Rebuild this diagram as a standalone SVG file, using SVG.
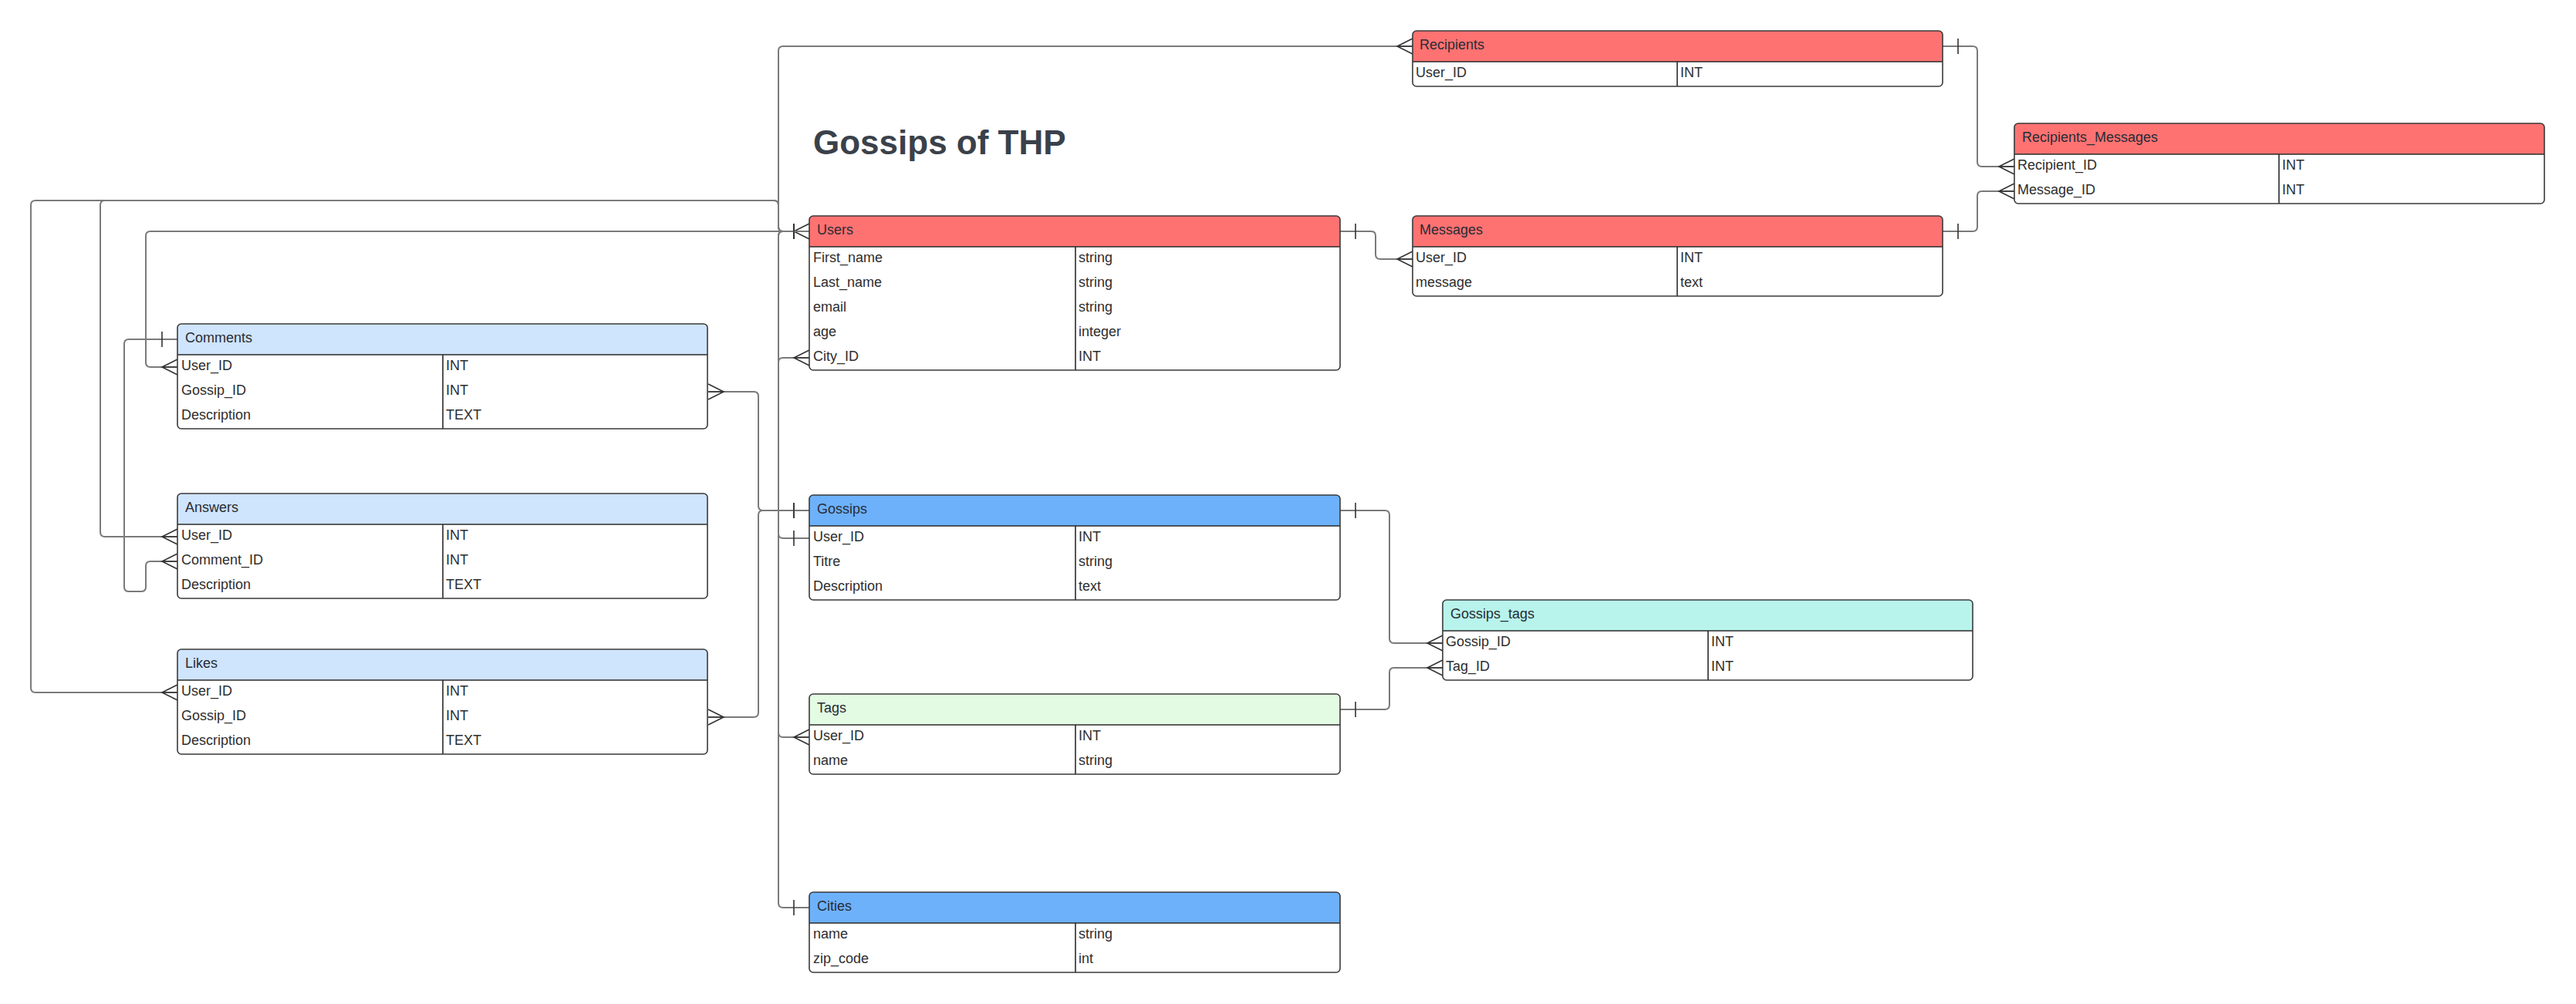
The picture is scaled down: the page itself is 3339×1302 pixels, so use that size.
<svg xmlns="http://www.w3.org/2000/svg" width="3339" height="1302" viewBox="0 0 3339 1302">
<style>
.bg{fill:#ffffff}
.body{fill:#ffffff;stroke:none}
.outline{fill:none;stroke:#3a3a3a;stroke-width:1.6}
.sep{stroke:#2a2a2a;stroke-width:1.6}
.red{fill:#ff7272}
.blue{fill:#6db1fb}
.lblue{fill:#cfe4fd}
.mint{fill:#b8f4ec}
.lgreen{fill:#e3fae3}
.ht{font-family:"Liberation Sans",Arial,sans-serif;font-size:18px;fill:#282c34;dominant-baseline:central;transform:translate(0px,-2px)}
.ct{font-family:"Liberation Sans",Arial,sans-serif;font-size:18px;fill:#2e2e2e;dominant-baseline:central;transform:translate(0px,-2px)}
.title{font-family:"Liberation Sans",Arial,sans-serif;font-size:44px;font-weight:bold;fill:#3a414a}
.conn{fill:none;stroke:#7a7a7a;stroke-width:2}
.mk{fill:none;stroke:#333333;stroke-width:1.6}
</style>
<defs>
<marker id="one" markerUnits="userSpaceOnUse" orient="auto-start-reverse" overflow="visible" markerWidth="30" markerHeight="30" refX="0" refY="0">
<path class="mk" d="M-20,-10 V10"/>
</marker>
<marker id="many" markerUnits="userSpaceOnUse" orient="auto-start-reverse" overflow="visible" markerWidth="30" markerHeight="30" refX="0" refY="0">
<path class="mk" d="M0,-10 L-20,0 L0,10 M-20,0 H0"/>
</marker>
</defs>
<rect class="bg" x="0" y="0" width="3339" height="1302"/>
<text class="title" x="1054" y="200">Gossips of THP</text>

<g id="connectors">
<path class="conn" d="M1049,300 H1015 Q1009,300 1009,294 V66 Q1009,60 1015,60 H1831" marker-start="url(#many)" marker-end="url(#many)"/>
<path class="conn" d="M1049,300 H1015 Q1009,300 1009,294 V266 Q1009,260 1003,260 H46 Q40,260 40,266 V892 Q40,898 46,898 H230" marker-start="url(#one)" marker-end="url(#many)"/>
<path class="conn" d="M1049,300 H1015 Q1009,300 1009,294 V266 Q1009,260 1003,260 H136 Q130,260 130,266 V690 Q130,696 136,696 H230" marker-start="url(#one)" marker-end="url(#many)"/>
<path class="conn" d="M1049,300 H195 Q189,300 189,306 V470 Q189,476 195,476 H230" marker-start="url(#one)" marker-end="url(#many)"/>
<path class="conn" d="M1049,300 H1015 Q1009,300 1009,306 V692 Q1009,698 1015,698 H1049" marker-start="url(#one)" marker-end="url(#one)"/>
<path class="conn" d="M1049,300 H1015 Q1009,300 1009,306 V950 Q1009,956 1015,956 H1049" marker-start="url(#one)" marker-end="url(#many)"/>
<path class="conn" d="M1049,1177 H1015 Q1009,1177 1009,1171 V470 Q1009,464 1015,464 H1049" marker-start="url(#one)" marker-end="url(#many)"/>
<path class="conn" d="M230,440 H167 Q161,440 161,446 V761 Q161,767 167,767 H183 Q189,767 189,761 V734 Q189,728 195,728 H230" marker-start="url(#one)" marker-end="url(#many)"/>
<path class="conn" d="M1049,662 H989 Q983,662 983,656 V514 Q983,508 977,508 H918" marker-start="url(#one)" marker-end="url(#many)"/>
<path class="conn" d="M1049,662 H989 Q983,662 983,668 V924 Q983,930 977,930 H918" marker-start="url(#one)" marker-end="url(#many)"/>
<path class="conn" d="M1737,300 H1777 Q1783,300 1783,306 V330 Q1783,336 1789,336 H1831" marker-start="url(#one)" marker-end="url(#many)"/>
<path class="conn" d="M2518,60 H2557 Q2563,60 2563,66 V210 Q2563,216 2569,216 H2611" marker-start="url(#one)" marker-end="url(#many)"/>
<path class="conn" d="M2518,300 H2557 Q2563,300 2563,294 V254 Q2563,248 2569,248 H2611" marker-start="url(#one)" marker-end="url(#many)"/>
<path class="conn" d="M1737,662 H1795 Q1801,662 1801,668 V828 Q1801,834 1807,834 H1870" marker-start="url(#one)" marker-end="url(#many)"/>
<path class="conn" d="M1737,920 H1795 Q1801,920 1801,914 V872 Q1801,866 1807,866 H1870" marker-start="url(#one)" marker-end="url(#many)"/>
</g>

<g id="Recipients">
<rect class="body" x="1831" y="40" width="687" height="72" rx="5"/>
<path class="red" d="M1836,40 H2513 Q2518,40 2518,45 V80 H1831 V45 Q1831,40 1836,40 Z"/>
<line class="sep" x1="1831" y1="80" x2="2518" y2="80"/>
<line class="sep" x1="2174" y1="80" x2="2174" y2="112"/>
<rect class="outline" x="1831" y="40" width="687" height="72" rx="5"/>
<text class="ht" x="1840" y="60">Recipients</text>
<text class="ct" x="1835" y="96">User_ID</text><text class="ct" x="2178" y="96">INT</text>
</g>

<g id="Recipients_Messages">
<rect class="body" x="2611" y="160" width="687" height="104" rx="5"/>
<path class="red" d="M2616,160 H3293 Q3298,160 3298,165 V200 H2611 V165 Q2611,160 2616,160 Z"/>
<line class="sep" x1="2611" y1="200" x2="3298" y2="200"/>
<line class="sep" x1="2954" y1="200" x2="2954" y2="264"/>
<rect class="outline" x="2611" y="160" width="687" height="104" rx="5"/>
<text class="ht" x="2621" y="180">Recipients_Messages</text>
<text class="ct" x="2615" y="216">Recipient_ID</text><text class="ct" x="2958" y="216">INT</text>
<text class="ct" x="2615" y="248">Message_ID</text><text class="ct" x="2958" y="248">INT</text>
</g>

<g id="Users">
<rect class="body" x="1049" y="280" width="688" height="200" rx="5"/>
<path class="red" d="M1054,280 H1732 Q1737,280 1737,285 V320 H1049 V285 Q1049,280 1054,280 Z"/>
<line class="sep" x1="1049" y1="320" x2="1737" y2="320"/>
<line class="sep" x1="1394" y1="320" x2="1394" y2="480"/>
<rect class="outline" x="1049" y="280" width="688" height="200" rx="5"/>
<text class="ht" x="1059" y="300">Users</text>
<text class="ct" x="1054" y="336">First_name</text><text class="ct" x="1398" y="336">string</text>
<text class="ct" x="1054" y="368">Last_name</text><text class="ct" x="1398" y="368">string</text>
<text class="ct" x="1054" y="400">email</text><text class="ct" x="1398" y="400">string</text>
<text class="ct" x="1054" y="432">age</text><text class="ct" x="1398" y="432">integer</text>
<text class="ct" x="1054" y="464">City_ID</text><text class="ct" x="1398" y="464">INT</text>
</g>

<g id="Messages">
<rect class="body" x="1831" y="280" width="687" height="104" rx="5"/>
<path class="red" d="M1836,280 H2513 Q2518,280 2518,285 V320 H1831 V285 Q1831,280 1836,280 Z"/>
<line class="sep" x1="1831" y1="320" x2="2518" y2="320"/>
<line class="sep" x1="2174" y1="320" x2="2174" y2="384"/>
<rect class="outline" x="1831" y="280" width="687" height="104" rx="5"/>
<text class="ht" x="1840" y="300">Messages</text>
<text class="ct" x="1835" y="336">User_ID</text><text class="ct" x="2178" y="336">INT</text>
<text class="ct" x="1835" y="368">message</text><text class="ct" x="2178" y="368">text</text>
</g>

<g id="Comments">
<rect class="body" x="230" y="420" width="687" height="136" rx="5"/>
<path class="lblue" d="M235,420 H912 Q917,420 917,425 V460 H230 V425 Q230,420 235,420 Z"/>
<line class="sep" x1="230" y1="460" x2="917" y2="460"/>
<line class="sep" x1="574" y1="460" x2="574" y2="556"/>
<rect class="outline" x="230" y="420" width="687" height="136" rx="5"/>
<text class="ht" x="240" y="440">Comments</text>
<text class="ct" x="235" y="476">User_ID</text><text class="ct" x="578" y="476">INT</text>
<text class="ct" x="235" y="508">Gossip_ID</text><text class="ct" x="578" y="508">INT</text>
<text class="ct" x="235" y="540">Description</text><text class="ct" x="578" y="540">TEXT</text>
</g>

<g id="Answers">
<rect class="body" x="230" y="640" width="687" height="136" rx="5"/>
<path class="lblue" d="M235,640 H912 Q917,640 917,645 V680 H230 V645 Q230,640 235,640 Z"/>
<line class="sep" x1="230" y1="680" x2="917" y2="680"/>
<line class="sep" x1="574" y1="680" x2="574" y2="776"/>
<rect class="outline" x="230" y="640" width="687" height="136" rx="5"/>
<text class="ht" x="240" y="660">Answers</text>
<text class="ct" x="235" y="696">User_ID</text><text class="ct" x="578" y="696">INT</text>
<text class="ct" x="235" y="728">Comment_ID</text><text class="ct" x="578" y="728">INT</text>
<text class="ct" x="235" y="760">Description</text><text class="ct" x="578" y="760">TEXT</text>
</g>

<g id="Likes">
<rect class="body" x="230" y="842" width="687" height="136" rx="5"/>
<path class="lblue" d="M235,842 H912 Q917,842 917,847 V882 H230 V847 Q230,842 235,842 Z"/>
<line class="sep" x1="230" y1="882" x2="917" y2="882"/>
<line class="sep" x1="574" y1="882" x2="574" y2="978"/>
<rect class="outline" x="230" y="842" width="687" height="136" rx="5"/>
<text class="ht" x="240" y="862">Likes</text>
<text class="ct" x="235" y="898">User_ID</text><text class="ct" x="578" y="898">INT</text>
<text class="ct" x="235" y="930">Gossip_ID</text><text class="ct" x="578" y="930">INT</text>
<text class="ct" x="235" y="962">Description</text><text class="ct" x="578" y="962">TEXT</text>
</g>

<g id="Gossips">
<rect class="body" x="1049" y="642" width="688" height="136" rx="5"/>
<path class="blue" d="M1054,642 H1732 Q1737,642 1737,647 V682 H1049 V647 Q1049,642 1054,642 Z"/>
<line class="sep" x1="1049" y1="682" x2="1737" y2="682"/>
<line class="sep" x1="1394" y1="682" x2="1394" y2="778"/>
<rect class="outline" x="1049" y="642" width="688" height="136" rx="5"/>
<text class="ht" x="1059" y="662">Gossips</text>
<text class="ct" x="1054" y="698">User_ID</text><text class="ct" x="1398" y="698">INT</text>
<text class="ct" x="1054" y="730">Titre</text><text class="ct" x="1398" y="730">string</text>
<text class="ct" x="1054" y="762">Description</text><text class="ct" x="1398" y="762">text</text>
</g>

<g id="Gossips_tags">
<rect class="body" x="1870" y="778" width="687" height="104" rx="5"/>
<path class="mint" d="M1875,778 H2552 Q2557,778 2557,783 V818 H1870 V783 Q1870,778 1875,778 Z"/>
<line class="sep" x1="1870" y1="818" x2="2557" y2="818"/>
<line class="sep" x1="2214" y1="818" x2="2214" y2="882"/>
<rect class="outline" x="1870" y="778" width="687" height="104" rx="5"/>
<text class="ht" x="1880" y="798">Gossips_tags</text>
<text class="ct" x="1874" y="834">Gossip_ID</text><text class="ct" x="2218" y="834">INT</text>
<text class="ct" x="1874" y="866">Tag_ID</text><text class="ct" x="2218" y="866">INT</text>
</g>

<g id="Tags">
<rect class="body" x="1049" y="900" width="688" height="104" rx="5"/>
<path class="lgreen" d="M1054,900 H1732 Q1737,900 1737,905 V940 H1049 V905 Q1049,900 1054,900 Z"/>
<line class="sep" x1="1049" y1="940" x2="1737" y2="940"/>
<line class="sep" x1="1394" y1="940" x2="1394" y2="1004"/>
<rect class="outline" x="1049" y="900" width="688" height="104" rx="5"/>
<text class="ht" x="1059" y="920">Tags</text>
<text class="ct" x="1054" y="956">User_ID</text><text class="ct" x="1398" y="956">INT</text>
<text class="ct" x="1054" y="988">name</text><text class="ct" x="1398" y="988">string</text>
</g>

<g id="Cities">
<rect class="body" x="1049" y="1157" width="688" height="104" rx="5"/>
<path class="blue" d="M1054,1157 H1732 Q1737,1157 1737,1162 V1197 H1049 V1162 Q1049,1157 1054,1157 Z"/>
<line class="sep" x1="1049" y1="1197" x2="1737" y2="1197"/>
<line class="sep" x1="1394" y1="1197" x2="1394" y2="1261"/>
<rect class="outline" x="1049" y="1157" width="688" height="104" rx="5"/>
<text class="ht" x="1059" y="1177">Cities</text>
<text class="ct" x="1054" y="1213">name</text><text class="ct" x="1398" y="1213">string</text>
<text class="ct" x="1054" y="1245">zip_code</text><text class="ct" x="1398" y="1245">int</text>
</g>
</svg>
